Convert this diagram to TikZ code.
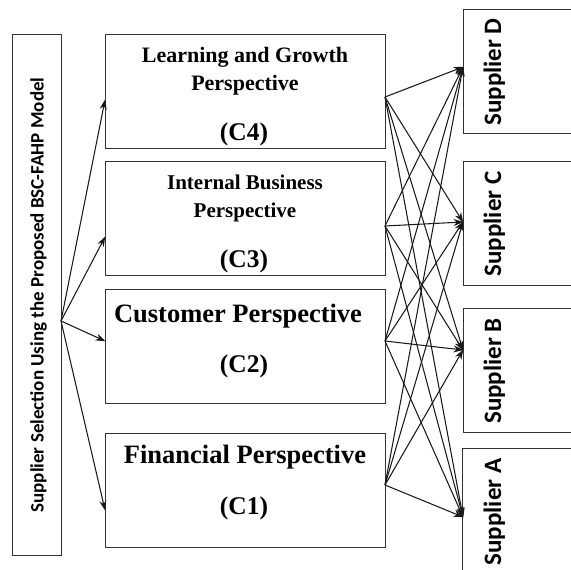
\documentclass[tikz,border=0pt]{standalone}
\usepackage{fontspec}
\setmainfont{Liberation Serif}
\newfontfamily\supfont{Carlito}
\usetikzlibrary{arrows.meta}
\begin{document}
\begin{tikzpicture}[x=1pt,y=-1pt,
  boxline/.style={draw=black!80, line width=1pt},
  persp/.style={font=\bfseries\fontsize{22}{24}\selectfont, anchor=base, inner sep=0pt},
  perspbig/.style={font=\bfseries\fontsize{26.5}{30}\selectfont, anchor=base, inner sep=0pt},
  clabel/.style={font=\bfseries\fontsize{25.5}{28}\selectfont, anchor=base, inner sep=0pt},
  suptext/.style={font=\supfont\bfseries\fontsize{25}{28}\selectfont, anchor=base, rotate=90, inner sep=0pt},
  arr/.style={-{Stealth[length=10pt,width=7pt]}, line width=1.05pt, black!90, shorten >=-0.5pt}]
\useasboundingbox (0,0) rectangle (571,570);
\begin{scope}
\clip (0,0) rectangle (571,570);
% left box
\draw[boxline] (12,34) rectangle (61,555);
\node[suptext, font=\supfont\bfseries\fontsize{19}{22}\selectfont] (lt) at (43.5,295) {Supplier Selection Using the Proposed BSC-FAHP Model};
% perspective boxes
\draw[boxline] (105,34) rectangle (385,148);
\draw[boxline] (105,161) rectangle (385,275);
\draw[boxline] (105,289) rectangle (385,403);
\draw[boxline] (105,433) rectangle (385,547);
\node[persp] (c4a) at (245,62) {Learning and Growth};
\node[persp] (c4b) at (245,90) {Perspective};
\node[clabel] (c4c) at (244,140) {(C4)};
\node[persp, font=\bfseries\fontsize{21}{24}\selectfont] (c3a) at (245,189) {Internal Business};
\node[persp, font=\bfseries\fontsize{21}{24}\selectfont] (c3b) at (245,217) {Perspective};
\node[clabel] (c3c) at (244,267) {(C3)};
\node[perspbig] (c2a) at (238,322) {Customer Perspective};
\node[clabel] (c2c) at (244,372) {(C2)};
\node[perspbig] (c1a) at (245,463) {Financial Perspective};
\node[clabel] (c1c) at (244,514) {(C1)};
% supplier boxes
\draw[boxline] (463,9) rectangle (580,133);
\draw[boxline] (463,161) rectangle (580,285);
\draw[boxline] (463,308) rectangle (580,432);
\draw[boxline] (462,448) rectangle (580,580);
\node[suptext] (sd) at (501,72) {Supplier D};
\node[suptext] (sc) at (501,224) {Supplier C};
\node[suptext] (sb) at (501,371) {Supplier B};
\node[suptext] (sa) at (501,512) {Supplier A};
\end{scope}
% coordinates
\coordinate (src) at (61,321);
\coordinate (i4) at (105,100);
\coordinate (i3) at (105,237);
\coordinate (i2) at (105,341);
\coordinate (i1) at (105,510);
\coordinate (o4) at (385,97);
\coordinate (o3) at (385,226);
\coordinate (o2) at (385,341);
\coordinate (o1) at (385,485);
\coordinate (tD) at (463,67);
\coordinate (tC) at (463,222);
\coordinate (tB) at (463,350);
\coordinate (tA) at (463,517);
\foreach \t in {i4,i3,i2,i1} \draw[arr] (src) -- (\t);
\foreach \s in {o4,o3,o2,o1}
  \foreach \t in {tD,tC,tB,tA}
    \draw[arr] (\s) -- (\t);
\end{tikzpicture}
\end{document}
